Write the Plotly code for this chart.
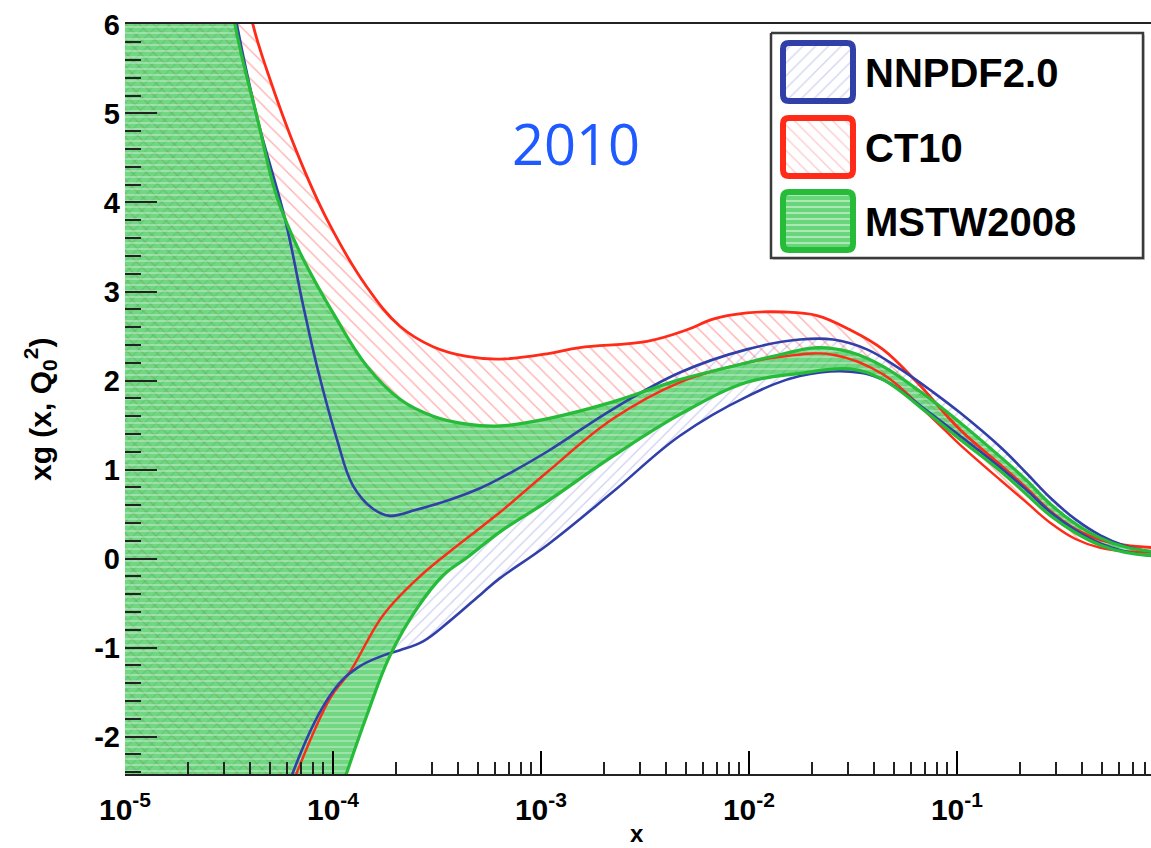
import numpy as np
import plotly.graph_objects as go

# ---------------- data (log10 x, xg values) ----------------
nnpdf_up_lx = [-5.2, -4.55, -4.462, -4.361, -4.23, -4.144, -4.077, -3.981, -3.904, -3.808, -3.726,
               -3.596, -3.438, -3.293, -3.197, -2.971, -2.654, -2.332, -2.01, -1.755, -1.596,
               -1.433, -1.274, -1.115, -0.986, -0.79, -0.67, -0.55, -0.43, -0.31, -0.19, -0.03]
nnpdf_up = [9.0, 7.2, 6.0, 4.92, 3.81, 2.85, 2.16, 1.34, 0.82, 0.56, 0.48,
            0.55, 0.66, 0.79, 0.90, 1.20, 1.68, 2.09, 2.35, 2.46, 2.46,
            2.35, 2.13, 1.87, 1.64, 1.25, 0.97, 0.68, 0.44, 0.26, 0.14, 0.06]
nnpdf_lo_lx = [-5.2, -4.25, -4.192, -4.0, -3.885, -3.76, -3.678, -3.567, -3.438, -3.279, -3.197,
               -2.971, -2.654, -2.332, -2.01, -1.755, -1.514, -1.356, -1.144, -0.986, -0.79,
               -0.67, -0.55, -0.43, -0.31, -0.19, -0.03]
nnpdf_lo = [-12.0, -2.9, -2.40, -1.49, -1.23, -1.09, -1.03, -0.93, -0.70, -0.38, -0.22,
            0.15, 0.75, 1.38, 1.82, 2.05, 2.10, 2.01, 1.66, 1.38, 1.02,
            0.78, 0.52, 0.32, 0.17, 0.08, 0.02]

ct10_up_lx = [-5.2, -4.45, -4.385, -4.317, -4.173, -4.029, -3.837, -3.678, -3.519, -3.356, -3.197,
              -2.971, -2.813, -2.49, -2.298, -2.173, -2.01, -1.837, -1.673, -1.514, -1.356,
              -1.192, -0.986, -0.79, -0.67, -0.55, -0.43, -0.31, -0.19, -0.03]
ct10_up = [11.0, 6.8, 6.0, 5.48, 4.56, 3.81, 3.05, 2.61, 2.38, 2.27, 2.24,
           2.30, 2.37, 2.44, 2.57, 2.69, 2.76, 2.77, 2.73, 2.57, 2.35,
           1.98, 1.45, 1.05, 0.80, 0.53, 0.33, 0.21, 0.15, 0.12]
ct10_lo_lx = [-5.2, -4.22, -4.173, -4.014, -3.918, -3.76, -3.596, -3.438, -3.197, -2.971,
              -2.654, -2.332, -2.01, -1.837, -1.596, -1.356, -1.115, -0.986, -0.79, -0.67,
              -0.55, -0.43, -0.31, -0.19, -0.03]
ct10_lo = [-12.0, -2.7, -2.40, -1.57, -1.27, -0.64, -0.23, 0.08, 0.52, 0.97,
           1.57, 1.98, 2.20, 2.27, 2.29, 2.07, 1.57, 1.28, 0.88, 0.64,
           0.40, 0.22, 0.12, 0.08, 0.07]

mstw_up_lx = [-5.2, -4.55, -4.471, -4.361, -4.269, -4.159, -3.99, -3.837, -3.678, -3.519, -3.356,
              -3.197, -2.971, -2.654, -2.332, -2.01, -1.851, -1.673, -1.514, -1.356, -1.144,
              -0.986, -0.79, -0.67, -0.55, -0.43, -0.31, -0.19, -0.03]
mstw_up = [10.0, 7.3, 6.0, 4.92, 4.06, 3.44, 2.72, 2.16, 1.79, 1.60, 1.51,
           1.49, 1.57, 1.76, 2.01, 2.20, 2.29, 2.37, 2.32, 2.16, 1.82,
           1.53, 1.14, 0.89, 0.61, 0.39, 0.23, 0.13, 0.07]
mstw_lo_lx = [-5.2, -3.99, -3.933, -3.837, -3.726, -3.596, -3.471, -3.35, -3.197, -2.971, -2.654,
              -2.332, -2.01, -1.755, -1.514, -1.356, -1.144, -0.986, -0.79, -0.67, -0.55,
              -0.43, -0.31, -0.19, -0.03]
mstw_lo = [-12.0, -2.8, -2.40, -1.76, -1.09, -0.56, -0.19, 0.02, 0.30, 0.64, 1.15,
           1.62, 1.98, 2.08, 2.13, 2.01, 1.64, 1.34, 0.98, 0.73, 0.48,
           0.29, 0.15, 0.07, 0.03]

series_names = ["NNPDF2.0", "CT10", "MSTW2008"]
x_tick_exp = [-5, -4, -3, -2, -1]
y_tick_vals = [-2, -1, 0, 1, 2, 3, 4, 5, 6]
year_label = "2010"

# ---------------- styles ----------------
BLUE = "#3040a8"
RED = "#ff2a18"
GREEN = "#26bb38"
FONT = "Liberation Sans"
SMOOTH = 1.1

W, H = 1151, 848
ML, MR, MT, MB = 125, 0, 24, 74

fig = go.Figure()


def add_band(lx_u, y_u, lx_l, y_l, pattern, fillcolor):
    xs = list(10 ** np.array(lx_u)) + list(10 ** np.array(lx_l[::-1]))
    ys = list(y_u) + list(y_l[::-1])
    fig.add_trace(go.Scatter(
        x=xs, y=ys, mode="lines", fill="toself", fillcolor=fillcolor,
        fillpattern=pattern, line=dict(width=0, shape="spline", smoothing=SMOOTH),
        hoverinfo="skip", showlegend=False))


def add_edge(lx, y, color, width=2.8):
    fig.add_trace(go.Scatter(
        x=10 ** np.array(lx), y=y, mode="lines",
        line=dict(color=color, width=width, shape="spline", smoothing=SMOOTH),
        hoverinfo="skip", showlegend=False))


red_pat = dict(shape="\\", fgcolor="rgba(255,60,60,0.8)", bgcolor="rgba(0,0,0,0)", size=10, solidity=0.14)
blue_pat = dict(shape="/", fgcolor="rgba(80,80,200,0.55)", bgcolor="rgba(0,0,0,0)", size=8, solidity=0.16)
green_pat = dict(shape="-", fgcolor="rgba(255,255,255,0.7)", bgcolor="rgba(45,195,70,0.68)", size=6, solidity=0.3)

add_band(ct10_up_lx, ct10_up, ct10_lo_lx, ct10_lo, red_pat, "rgba(0,0,0,0)")
add_band(nnpdf_up_lx, nnpdf_up, nnpdf_lo_lx, nnpdf_lo, blue_pat, "rgba(0,0,0,0)")
add_band(mstw_up_lx, mstw_up, mstw_lo_lx, mstw_lo, green_pat, "rgba(0,0,0,0)")

add_edge(ct10_up_lx, ct10_up, RED)
add_edge(ct10_lo_lx, ct10_lo, RED, 2.4)
add_edge(nnpdf_up_lx, nnpdf_up, BLUE, 2.6)
add_edge(nnpdf_lo_lx, nnpdf_lo, BLUE, 2.6)
add_edge(mstw_up_lx, mstw_up, GREEN, 3.2)
add_edge(mstw_lo_lx, mstw_lo, GREEN, 3.2)

# ---------------- legend (drawn on an overlay axis in page pixels) ----------------
leg_box = (771, 33, 1143, 258)
sw_x0, sw_x1 = 783, 853
sw_rows = [(43, 101), (118, 176), (192, 250)]
sw_colors = [BLUE, RED, GREEN]
sw_pats = [
    dict(shape="/", fgcolor="rgba(90,90,210,0.55)", bgcolor="white", size=9, solidity=0.14),
    dict(shape="\\", fgcolor="rgba(255,70,70,0.6)", bgcolor="white", size=9, solidity=0.14),
    dict(shape="-", fgcolor="rgba(255,255,255,0.9)", bgcolor="rgba(50,200,75,0.75)", size=6, solidity=0.35),
]


def rrect(x0, y0, x1, y1, r):
    return (f"M {x0+r},{y0} L {x1-r},{y0} Q {x1},{y0} {x1},{y0+r} L {x1},{y1-r} "
            f"Q {x1},{y1} {x1-r},{y1} L {x0+r},{y1} Q {x0},{y1} {x0},{y1-r} "
            f"L {x0},{y0+r} Q {x0},{y0} {x0+r},{y0} Z")


shapes = []
shapes.append(dict(type="rect", xref="x2", yref="y2", x0=leg_box[0] + 2, y0=leg_box[1] + 2,
                   x1=leg_box[2] + 2, y1=leg_box[3] + 2, line=dict(width=0),
                   fillcolor="rgba(0,0,0,0.18)", layer="below"))
fig.add_trace(go.Scatter(x=[leg_box[0], leg_box[2], leg_box[2], leg_box[0], leg_box[0]],
                         y=[leg_box[1], leg_box[1], leg_box[3], leg_box[3], leg_box[1]],
                         xaxis="x2", yaxis="y2", mode="lines", fill="toself", fillcolor="white",
                         line=dict(color="#3a3a3a", width=2.5), hoverinfo="skip", showlegend=False))
annotations = []
for (y0, y1), col, pat, name in zip(sw_rows, sw_colors, sw_pats, series_names):
    fig.add_trace(go.Scatter(x=[sw_x0 + 3, sw_x1 - 3, sw_x1 - 3, sw_x0 + 3, sw_x0 + 3],
                             y=[y0 + 3, y0 + 3, y1 - 3, y1 - 3, y0 + 3],
                             xaxis="x2", yaxis="y2", mode="lines", fill="toself",
                             fillcolor="white", fillpattern=pat, line=dict(width=0),
                             hoverinfo="skip", showlegend=False))
    shapes.append(dict(type="path", xref="x2", yref="y2", path=rrect(sw_x0, y0, sw_x1, y1, 6),
                       line=dict(color=col, width=6), fillcolor="rgba(0,0,0,0)", layer="above"))
    annotations.append(dict(xref="x2", yref="y2", x=863, y=(y0 + y1) / 2 + 1, text=f"<b>{name}</b>",
                            showarrow=False, xanchor="left", yanchor="middle",
                            font=dict(family=FONT, size=40, color="black")))

# year label
annotations.append(dict(xref="x2", yref="y2", x=576, y=143, text=year_label, showarrow=False,
                        xanchor="center", yanchor="middle",
                        font=dict(family="Open Sans", size=56, color="#1e5aff")))
# axis titles
annotations.append(dict(xref="paper", yref="paper", x=(637 - ML) / (W - ML - MR), y=(H - MB - 833) / (H - MT - MB),
                        text="<b>x</b>", showarrow=False, xanchor="center", yanchor="middle",
                        font=dict(family=FONT, size=24, color="black")))
annotations.append(dict(xref="paper", yref="paper", x=(40 - ML) / (W - ML - MR), y=(H - MB - 410) / (H - MT - MB),
                        text="<b>xg (x, Q<sub>0</sub><sup>2</sup>)</b>", showarrow=False, textangle=-90,
                        xanchor="center", yanchor="middle",
                        font=dict(family=FONT, size=30, color="black")))

minor_x = [m * 10.0 ** e for e in range(-5, 0) for m in range(2, 10)]

fig.update_layout(
    width=W, height=H, margin=dict(l=ML, r=MR, t=MT, b=MB),
    paper_bgcolor="white", plot_bgcolor="white",
    showlegend=False, shapes=shapes, annotations=annotations,
    xaxis=dict(type="log", range=[-5, -0.067], showgrid=False, zeroline=False,
               tickmode="array", tickvals=[10.0 ** e for e in x_tick_exp],
               ticktext=[f"<b>10<sup>{e}</sup></b>" for e in x_tick_exp],
               ticks="inside", ticklen=23, tickwidth=2, tickcolor="black",
               minor=dict(tickmode="array", tickvals=minor_x, ticks="inside", ticklen=12,
                          tickwidth=1.5, tickcolor="#222", showgrid=False),
               showline=True, linecolor="#222", linewidth=2, mirror=True,
               tickfont=dict(family=FONT, size=30, color="black"), ticklabelstandoff=8),
    yaxis=dict(range=[-2.42, 6.005], showgrid=False, zeroline=False,
               tickmode="array", tickvals=y_tick_vals,
               ticktext=[f"<b>{v}</b>" for v in y_tick_vals],
               ticks="inside", ticklen=32, tickwidth=2, tickcolor="#222",
               minor=dict(dtick=0.2, ticks="inside", ticklen=16, tickwidth=1.5, tickcolor="#222",
                          showgrid=False),
               showline=False,
               tickfont=dict(family=FONT, size=29, color="black"), ticklabelstandoff=4),
    xaxis2=dict(overlaying="x", range=[ML, W - MR], visible=False, showgrid=False, zeroline=False),
    yaxis2=dict(overlaying="y", range=[H - MB, MT], visible=False, showgrid=False, zeroline=False),
)

fig.write_html("out.html")
